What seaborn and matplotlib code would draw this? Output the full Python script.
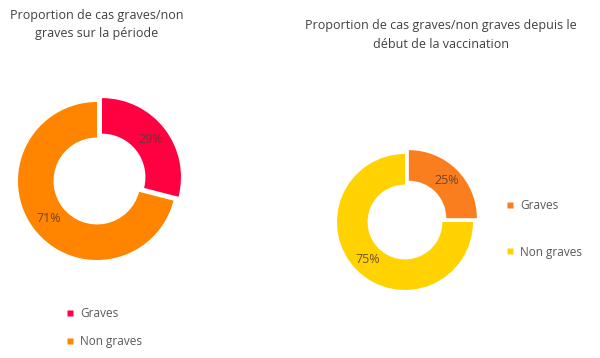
import matplotlib
matplotlib.use("Agg")
import matplotlib.pyplot as plt
from matplotlib.lines import Line2D
import seaborn as sns

sns.set_theme(style="white")
plt.rcParams["font.family"] = ["Open Sans", "DejaVu Sans"]

# data
categories = ["Graves", "Non graves"]
periode_values = [29, 71]
vaccination_values = [25, 75]

periode_colors = ["#FF0040", "#FF8400"]
vaccination_colors = ["#FA7D1E", "#FFD200"]

title_left = "Proportion de cas graves/non\ngraves sur la période"
title_right = "Proportion de cas graves/non graves depuis le\ndébut de la vaccination"

W, H = 600, 358
fig = plt.figure(figsize=(W / 100, H / 100), dpi=100)


def donut(cx, cy, r, values, colors):
    size = 2.4 * r
    ax = fig.add_axes([(cx - size / 2) / W, (H - cy - size / 2) / H, size / W, size / H])
    ax.pie(values, colors=colors, startangle=90, counterclock=False,
           explode=[0.08, 0], radius=1,
           wedgeprops=dict(width=0.45, edgecolor="none"),
           autopct="%d%%", pctdistance=0.78,
           textprops=dict(color="#5a3a2a", fontsize=9, alpha=0.85))
    ax.set_xlim(-1.2, 1.2)
    ax.set_ylim(-1.2, 1.2)
    ax.set_aspect("equal")
    ax.axis("off")
    return ax


donut(97, 181, 79, periode_values, periode_colors)
donut(405, 222, 68, vaccination_values, vaccination_colors)

fig.text(97 / W, 1 - 25 / H, title_left, ha="center", va="center",
         fontsize=9, color="#404040", linespacing=1.5)
fig.text(441 / W, 1 - 35 / H, title_right, ha="center", va="center",
         fontsize=9, color="#404040", linespacing=1.5)


def legend_block(x, y, colors, spacing):
    handles = [Line2D([], [], marker="s", linestyle="none", markersize=4.5,
                      markerfacecolor=c, markeredgecolor="none") for c in colors]
    fig.legend(handles, categories, loc="upper left",
               bbox_to_anchor=(x / W, 1 - y / H), frameon=False,
               fontsize=8.5, labelcolor="#595959", handlelength=0.6,
               handletextpad=0.5, labelspacing=spacing, borderpad=0)


legend_block(61, 301, periode_colors, 1.3)
legend_block(501, 193, vaccination_colors, 2.85)

fig.savefig("out.png", dpi=100, facecolor="white")
